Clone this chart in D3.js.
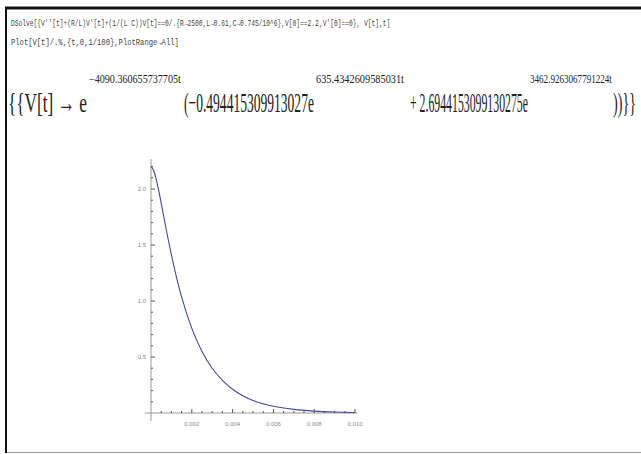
<!DOCTYPE html>
<html>
<head>
<meta charset="utf-8">
<script src="https://cdn.jsdelivr.net/npm/d3@7.9.0/dist/d3.min.js"></script>
<style>
  body { margin: 0; background: #fff; }
  svg { display: block; }
</style>
</head>
<body>
<svg id="chart" width="641" height="454"></svg>
<script>
// values (t in seconds, V in volts)
const tValues = [0, 0.000125, 0.00025, 0.0005, 0.00075, 0.001, 0.0015, 0.002, 0.0025, 0.003,
  0.0035, 0.004, 0.0045, 0.005, 0.006, 0.007, 0.008, 0.009, 0.010];
const vValues = [2.2, 2.168, 2.091, 1.874, 1.636, 1.412, 1.036, 0.756, 0.550, 0.400,
  0.292, 0.212, 0.154, 0.112, 0.060, 0.032, 0.017, 0.009, 0.005];
const xTicks = [0.002, 0.004, 0.006, 0.008, 0.010];
const xTickLabels = ['0.002', '0.004', '0.006', '0.008', '0.010'];
const yTicks = [0.5, 1.0, 1.5, 2.0];
const yTickLabels = ['0.5', '1.0', '1.5', '2.0'];

const inputLine1 = "DSolve[{V''[t]+(R/L)V'[t]+(1/(L C))V[t]==0/.{R\u21922500,L\u21920.61,C\u21920.745/10^6},V[0]==2.2,V'[0]==0}, V[t],t]";
const inputLine2 = "Plot[V[t]/.%,{t,0,1/100},PlotRange\u2192All]";
// output: [text, x, width, isSuperscript]
const outputParts = [
  ['{{V[t] \u2192 e', 8, 79, false],
  ['\u22124090.360655737705t', 89, 92, true],
  ['(\u22120.494415309913027e', 184, 130, false],
  ['635.4342609585031t', 316, 88, true],
  ['+ 2.6944153099130275e', 410, 118, false],
  ['3462.9263067791224t', 530, 82, true],
  ['))}}', 613, 23, false]
];

const svg = d3.select('#chart');

// squeeze a text horizontally to a given width
function fitText(sel, x, y, w) {
  const natural = sel.node().getComputedTextLength();
  sel.attr('x', 0).attr('y', 0)
    .attr('transform', `translate(${x},${y}) scale(${w / natural},1)`);
}

// notebook frame
svg.append('line').attr('x1', 5).attr('x2', 641).attr('y1', 452.5).attr('y2', 452.5)
  .attr('stroke', '#999').attr('stroke-width', 1);
svg.append('line').attr('x1', 5).attr('x2', 641).attr('y1', 8).attr('y2', 8)
  .attr('stroke', '#111').attr('stroke-width', 3);
svg.append('line').attr('x1', 6).attr('x2', 6).attr('y1', 7).attr('y2', 453)
  .attr('stroke', '#111').attr('stroke-width', 2);

// input lines
const in1 = svg.append('text').attr('font-family', 'Liberation Mono')
  .attr('font-size', 8.5).attr('fill', '#444').text(inputLine1);
fitText(in1, 11, 26, 380);
const in2 = svg.append('text').attr('font-family', 'Liberation Mono')
  .attr('font-size', 8.5).attr('fill', '#444').text(inputLine2);
fitText(in2, 11, 45, 168);

// output formula
outputParts.forEach(([txt, x, w, sup]) => {
  const t = svg.append('text')
    .attr('font-family', 'Liberation Serif')
    .attr('font-size', sup ? 12 : 28)
    .attr('fill', '#222')
    .text(txt);
  fitText(t, x, sup ? 83 : 112, w);
});

// plot
const x = d3.scaleLinear().domain([0, 0.01]).range([151, 355]);
const y = d3.scaleLinear().domain([0, 2.2]).range([413, 166.6]);

const axisColor = '#999';
svg.append('line').attr('x1', x(0)).attr('x2', x(0)).attr('y1', 159).attr('y2', 421)
  .attr('stroke', axisColor).attr('stroke-width', 1);
svg.append('line').attr('x1', 145).attr('x2', 357).attr('y1', y(0)).attr('y2', y(0))
  .attr('stroke', axisColor).attr('stroke-width', 1);

// minor and major ticks on x
const xMinor = d3.range(1, 21).map(i => i * 0.0005);
svg.append('g').selectAll('line').data(xMinor).join('line')
  .attr('x1', d => x(d)).attr('x2', d => x(d))
  .attr('y1', y(0)).attr('y2', d => y(0) - (Math.round(d / 0.0005) % 4 === 0 ? 4 : 2))
  .attr('stroke', '#555').attr('stroke-width', 1);
svg.append('g').selectAll('text').data(xTicks).join('text')
  .attr('x', d => x(d)).attr('y', 426)
  .attr('text-anchor', 'middle').attr('font-family', 'Liberation Sans Narrow, Liberation Sans')
  .attr('font-size', 6).attr('fill', '#888')
  .text((d, i) => xTickLabels[i]);

// minor and major ticks on y
const yMinor = d3.range(1, 23).map(i => i * 0.1);
svg.append('g').selectAll('line').data(yMinor).join('line')
  .attr('y1', d => y(d)).attr('y2', d => y(d))
  .attr('x1', x(0)).attr('x2', (d, i) => x(0) + ((i + 1) % 5 === 0 ? 4 : 2))
  .attr('stroke', '#555').attr('stroke-width', 1);
svg.append('g').selectAll('text').data(yTicks).join('text')
  .attr('x', 146).attr('y', d => y(d) + 2)
  .attr('text-anchor', 'end').attr('font-family', 'Liberation Sans Narrow, Liberation Sans')
  .attr('font-size', 6).attr('fill', '#888')
  .text((d, i) => yTickLabels[i]);

// the curve
const line = d3.line().x((d, i) => x(tValues[i])).y(d => y(d)).curve(d3.curveMonotoneX);
svg.append('path').datum(vValues).attr('d', line)
  .attr('fill', 'none').attr('stroke', '#46469a').attr('stroke-width', 1.1);
</script>
</body>
</html>
